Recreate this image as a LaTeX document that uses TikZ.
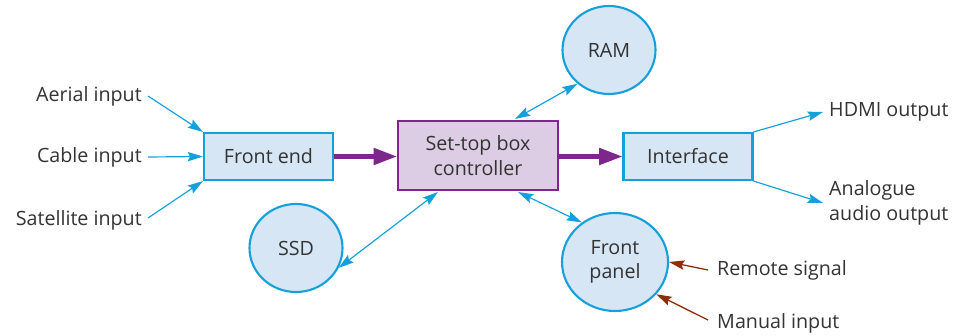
\documentclass[tikz,border=0pt]{standalone}
\usepackage{fontspec}
\setmainfont{Open Sans}
\usetikzlibrary{arrows.meta,shapes.geometric}
\definecolor{cblue}{RGB}{22,160,219}
\definecolor{lblue}{RGB}{214,230,244}
\definecolor{cpurp}{RGB}{125,38,140}
\definecolor{lpurp}{RGB}{220,204,228}
\definecolor{cbrown}{RGB}{140,46,10}
\definecolor{ctext}{RGB}{51,51,51}
\begin{document}
\begin{tikzpicture}[x=0.03cm,y=-0.03cm,
  every node/.style={font=\fontsize{16.8}{21}\selectfont,text=ctext},
  bbox/.style={draw=cblue,line width=1.8pt,fill=lblue,minimum width=129*0.03cm,minimum height=47*0.03cm,inner sep=0pt},
  cbox/.style={draw=cpurp,line width=1.8pt,fill=lpurp,minimum width=160*0.03cm,minimum height=69*0.03cm,inner sep=0pt,align=center},
  circ/.style={ellipse,draw=cblue,line width=1.8pt,fill=lblue,inner sep=0pt,align=center},
  lab/.style={inner sep=0pt},
  barrow/.style={draw=cblue,line width=1pt,-{Stealth[length=13pt,width=8pt,inset=2pt]}},
  darrow/.style={draw=cblue,line width=1pt,{Stealth[length=13pt,width=8pt,inset=2pt]}-{Stealth[length=13pt,width=8pt,inset=2pt]}},
  brarrow/.style={draw=cbrown,line width=1.1pt,-{Stealth[length=13pt,width=8pt,inset=2pt]}},
  parrow/.style={draw=cpurp,line width=3.5pt,-{Triangle[length=20pt,width=14pt]}}
]
\useasboundingbox (0,0) rectangle (958,335);
\node[bbox] (fe) at (268.5,156.5) {Front end};
\node[cbox] (ctl) at (478,155.5) {Set-top box\\controller};
\node[bbox] (intf) at (688,156.5) {Interface};
\node[circ,minimum width=93*0.03cm,minimum height=88*0.03cm] (ram) at (609,50) {RAM};
\node[circ,minimum width=93*0.03cm,minimum height=88*0.03cm] (ssd) at (296,248) {SSD};
\node[circ,minimum width=106*0.03cm,minimum height=98*0.03cm] (fp) at (615,262) {Front\\panel};

\node[lab,anchor=east] (aer) at (142,96) {Aerial input};
\node[lab,anchor=east] (cab) at (142,157) {Cable input};
\node[lab,anchor=east] (sat) at (142,220) {Satellite input};
\node[lab,anchor=west] (hdmi) at (829,112) {HDMI output};
\node[lab,anchor=west,align=left] (ana) at (829,203) {Analogue\\audio output};
\node[lab,anchor=west] (rem) at (717,270) {Remote signal};
\node[lab,anchor=west] (man) at (717,323) {Manual input};

\coordinate (aerE) at (148,96);
\coordinate (cabE) at (148,157);
\coordinate (satE) at (148,218);
\coordinate (hdmiW) at (823,112);
\coordinate (anaW) at (823,203);
\coordinate (remW) at (708,270);
\coordinate (manW) at (708,320);

\draw[barrow] (aerE) -- (fe.north west);
\draw[barrow] (cabE) -- (fe.west);
\draw[barrow] (satE) -- (fe.south west);
\draw[barrow] (intf.north east) -- (hdmiW);
\draw[barrow] (intf.south east) -- (anaW);
\draw[brarrow] (remW) -- (fp.east);
\draw[brarrow] (manW) -- (fp.-38);
\draw[parrow] (fe.east) -- (ctl.west |- fe.east);
\draw[parrow] (ctl.east |- intf.west) -- (intf.west);
\coordinate (c1) at (515,119);
\coordinate (c2) at (438,192);
\coordinate (c3) at (518,192);
\draw[darrow] (c1) -- (ram.-133);
\draw[darrow] (c2) -- (ssd.-25);
\draw[darrow] (c3) -- (fp.130);
\end{tikzpicture}
\end{document}
